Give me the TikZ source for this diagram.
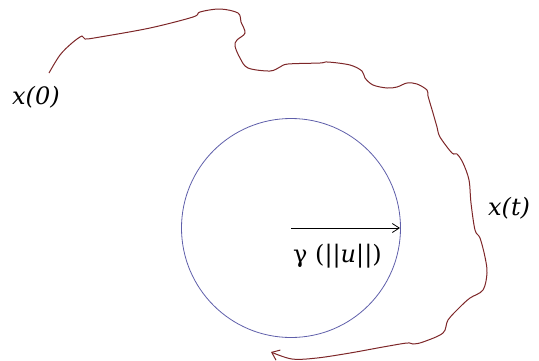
\documentclass[tikz,border=0pt]{standalone}
\usepackage{fontspec}
\setmainfont{DejaVu Serif}
\newfontfamily\lblfont{DejaVu Serif}
\usetikzlibrary{arrows.meta}
\definecolor{trajred}{RGB}{125,38,40}
\definecolor{ballblue}{RGB}{95,95,170}
\tikzset{
  traj/.style  = {draw=trajred, line width=1pt, -{Straight Barb[length=7pt,width=11pt]}},
  ball/.style  = {draw=ballblue, line width=0.8pt},
  rad/.style   = {line width=0.8pt, -{Straight Barb[length=7pt,width=9pt]}},
  lbl/.style   = {font=\lblfont\fontsize{24}{28}\selectfont, inner sep=0pt},
  ilbl/.style  = {font=\lblfont\fontsize{24}{28}\selectfont\itshape, inner sep=0pt},
}

\begin{document}
\begin{tikzpicture}[x=1pt, y=-1pt]
  \useasboundingbox (0,0) rectangle (539,360);
  % ---- invariant ball ----
  \coordinate (ctr) at (291,228);
  \draw[ball] (ctr) circle[radius=109.5];
  \coordinate (rim) at (400,228);
  \draw[rad] (ctr) -- (rim);
  \node[lbl, anchor=base west] (radlbl) at (293,262) {γ (||\textit{u}||)};

  % ---- trajectory ----
  \coordinate (xstart) at (49,73);
  \coordinate (xend) at (271,352);
  \draw[traj] plot[smooth, tension=0.55] coordinates {
    (xstart) (60,55) (72,43) (82,36) (85,39) (100,37) (150,28) (193,17)
    (200,12) (220,9) (238,13) (241,22) (245,33) (237,40) (235,46) (240,58)
    (248,68) (270,71) (280,67) (288,64) (320,63) (328,62) (350,65) (362,71)
    (365,78) (373,85) (387,88) (397,87) (407,83) (417,84) (427,90) (428,96)
    (433,113) (437,127) (440,137) (452,153) (457,154) (463,163) (469,180)
    (471,203) (475,230) (480,238) (485,257) (487,273) (483,290) (470,298)
    (460,307) (448,320) (443,333) (423,342) (413,344) (407,343) (383,347)
    (350,353) (317,358) (292,359) (xend)};
  \node[ilbl, anchor=base west] (x0lbl) at (12,104) {x(0)};
  \node[ilbl, anchor=base west] (xtlbl) at (488,215) {x(t)};
\end{tikzpicture}
\end{document}
